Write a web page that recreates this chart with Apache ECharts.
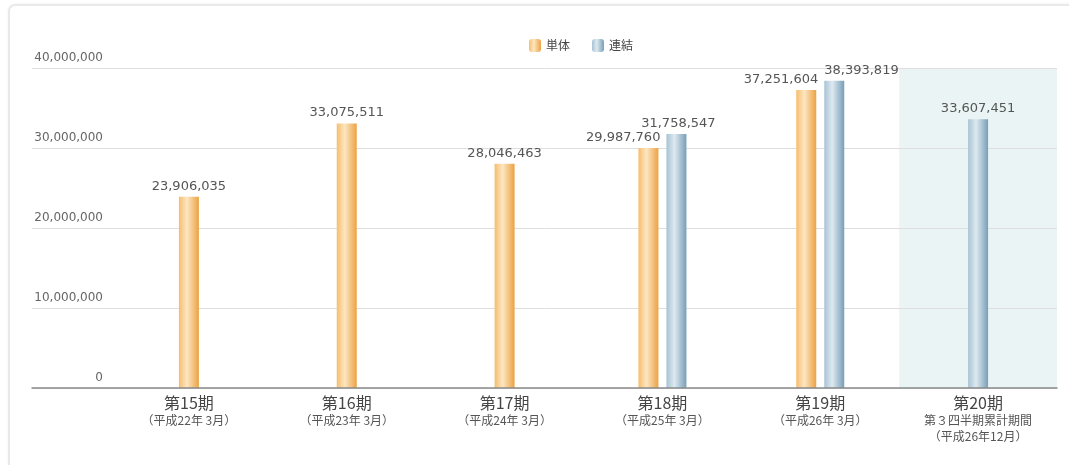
<!DOCTYPE html>
<html lang="ja">
<head>
<meta charset="utf-8">
<title>売上高の推移</title>
<script src="https://cdn.jsdelivr.net/npm/echarts@6/dist/echarts.min.js"></script>
<style>
  html, body { margin: 0; padding: 0; background: #fff; }
  body { width: 1069px; height: 465px; position: relative; overflow: hidden; }
  .card {
    position: absolute; left: 8px; top: 4px; width: 1100px; height: 520px;
    border: 2px solid #e9e9e9; border-radius: 7px;
    box-shadow: 0 0 3px rgba(0,0,0,0.06);
    box-sizing: border-box;
  }
  #chart { position: absolute; left: 0; top: 0; width: 1069px; height: 465px; }
</style>
</head>
<body>
<div class="card"></div>
<div id="chart"></div>
<script>
// 期ごとの区分と値
const periods = ['第15期', '第16期', '第17期', '第18期', '第19期', '第20期'];
const periodNotes = [
  '（平成22年 3月）',
  '（平成23年 3月）',
  '（平成24年 3月）',
  '（平成25年 3月）',
  '（平成26年 3月）',
  '第３四半期累計期間\n（平成26年12月）'
];
const tantai = [23906035, 33075511, 28046463, 29987760, 37251604, null];   // 単体
const renketsu = [null, null, null, 31758547, 38393819, 33607451];          // 連結
const yTicks = { min: 0, max: 40000000, interval: 10000000 };
const highlightPeriod = '第20期';

const fmt = v => Number(v).toLocaleString('en-US');

const orangeFill = new echarts.graphic.LinearGradient(0, 0, 1, 0, [
  { offset: 0, color: '#f6bd6c' },
  { offset: 0.4, color: '#fde6c2' },
  { offset: 1, color: '#eca243' }
]);
const blueFill = new echarts.graphic.LinearGradient(0, 0, 1, 0, [
  { offset: 0, color: '#a8c3d5' },
  { offset: 0.4, color: '#dde9f0' },
  { offset: 1, color: '#789eb8' }
]);

// A period with both figures gets a pair of bars; otherwise the single bar sits centred.
const paired = periods.map((_, i) => tantai[i] != null && renketsu[i] != null);
const pick = (arr, wantPaired) => arr.map((v, i) => (v != null && paired[i] === wantPaired) ? v : null);

const labelFont = { fontFamily: 'DejaVu Sans', fontSize: 13, color: '#555' };

function pairedData(arr, side) {
  return pick(arr, true).map((v, i) => {
    if (v == null) return null;
    let label = {};
    if (side === 'left') label = { align: 'right', offset: [12, 0] };
    else if (i === 4) label = { align: 'left', offset: [-10, 0] };
    else label = { offset: [2, 0] };
    return { value: v, label };
  });
}

const barLabel = Object.assign({ show: true, position: 'top', distance: 4, formatter: p => fmt(p.value) }, labelFont);

const chart = echarts.init(document.getElementById('chart'), null, { renderer: 'canvas' });

chart.setOption({
  animation: false,
  legend: {
    top: 34, left: 524,
    itemWidth: 12, itemHeight: 13, itemGap: 22,
    textStyle: { fontFamily: 'Noto Sans CJK JP', fontSize: 12, color: '#444' },
    data: ['単体', '連結']
  },
  grid: [
    { left: 32, right: 12, top: 68, bottom: 77 },
    { left: 110, right: 12, top: 68, bottom: 77 }
  ],
  xAxis: [
    { gridIndex: 0, type: 'value', min: 0, max: 1, show: true, z: 3,
      axisLine: { show: true, onZero: false, lineStyle: { color: '#8a8a8a', width: 1.5 } },
      axisTick: { show: false }, axisLabel: { show: false }, splitLine: { show: false } },
    { gridIndex: 1, type: 'category', data: periods,
      axisLine: { show: false }, axisTick: { show: false },
      axisLabel: {
        margin: 5, interval: 0,
        formatter: (v, i) => '{m|' + v + '}\n' + periodNotes[i].split('\n').map(s => '{s|' + s + '}').join('\n'),
        rich: {
          m: { fontFamily: 'Noto Sans CJK JP', fontSize: 16, lineHeight: 19, color: '#444' },
          s: { fontFamily: 'Noto Sans CJK JP', fontSize: 12, lineHeight: 16, color: '#555' }
        }
      } },
    { gridIndex: 1, type: 'category', data: periods, show: false },
    { gridIndex: 1, type: 'category', data: periods, show: false }
  ],
  yAxis: [
    { gridIndex: 0, type: 'value', min: yTicks.min, max: yTicks.max, interval: yTicks.interval, z: 1,
      axisLine: { show: false }, axisTick: { show: false },
      axisLabel: {
        inside: true, align: 'right', verticalAlign: 'bottom', margin: 71,
        padding: [0, 0, 4, 0],
        formatter: v => fmt(v),
        fontFamily: 'DejaVu Sans', fontSize: 12, color: '#666'
      },
      splitLine: { show: true, lineStyle: { color: '#dedede', width: 1 } } },
    { gridIndex: 1, type: 'value', min: yTicks.min, max: yTicks.max, interval: yTicks.interval, show: false,
      splitLine: { show: false } }
  ],
  series: [
    // light band behind the current period
    { type: 'bar', xAxisIndex: 3, yAxisIndex: 1, barWidth: '100%', z: 0, silent: true,
      itemStyle: { color: '#eaf4f4' },
      data: periods.map(p => p === highlightPeriod ? yTicks.max : null) },
    // single bars, centred in their period
    { name: '単体', type: 'bar', xAxisIndex: 1, yAxisIndex: 1, barWidth: 20, barGap: '-100%', z: 2,
      itemStyle: { color: orangeFill }, label: barLabel, data: pick(tantai, false) },
    { name: '連結', type: 'bar', xAxisIndex: 1, yAxisIndex: 1, barWidth: 20, barGap: '-100%', z: 2,
      itemStyle: { color: blueFill }, label: barLabel, data: pick(renketsu, false) },
    // paired bars
    { name: '単体', type: 'bar', xAxisIndex: 2, yAxisIndex: 1, barWidth: 20, barGap: '40%', z: 2,
      itemStyle: { color: orangeFill }, label: barLabel, data: pairedData(tantai, 'left') },
    { name: '連結', type: 'bar', xAxisIndex: 2, yAxisIndex: 1, barWidth: 20, barGap: '40%', z: 2,
      itemStyle: { color: blueFill }, label: barLabel, data: pairedData(renketsu, 'right') }
  ]
});
</script>
</body>
</html>
